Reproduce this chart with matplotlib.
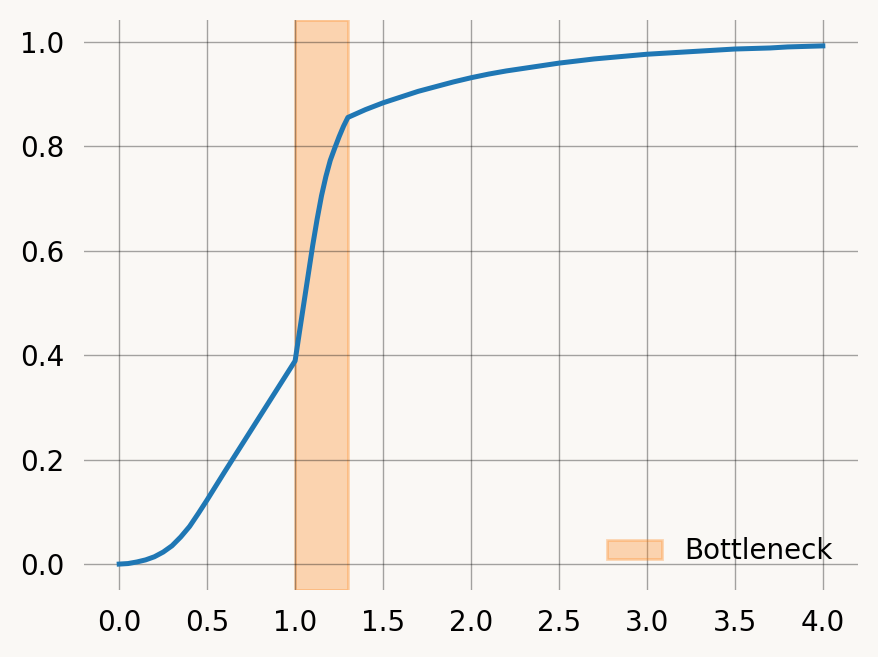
import matplotlib
matplotlib.use("Agg")
import matplotlib.pyplot as plt
import numpy as np

# curve
x_vals = [0.0, 0.05, 0.1, 0.15, 0.2, 0.25, 0.3, 0.35, 0.4, 0.45, 0.5, 0.55,
          0.6, 0.7, 0.8, 0.9, 1.0,
          1.025, 1.05, 1.075, 1.1, 1.125, 1.15, 1.175, 1.2, 1.225, 1.25, 1.275, 1.3,
          1.4, 1.5, 1.6, 1.7, 1.8, 1.9, 2.0, 2.1, 2.2, 2.3, 2.4, 2.5, 2.6, 2.7,
          2.8, 2.9, 3.0, 3.1, 3.2, 3.3, 3.4, 3.5, 3.6, 3.7, 3.8, 3.9, 4.0]
y_vals = [0.0, 0.001, 0.004, 0.008, 0.014, 0.023, 0.035, 0.052, 0.072, 0.097, 0.123, 0.150,
          0.177, 0.230, 0.283, 0.336, 0.389,
          0.445, 0.500, 0.555, 0.610, 0.660, 0.705, 0.742, 0.773, 0.796, 0.818, 0.838, 0.855,
          0.870, 0.883, 0.894, 0.905, 0.914, 0.923, 0.931, 0.938, 0.944, 0.949, 0.954, 0.959,
          0.963, 0.967, 0.970, 0.973, 0.976, 0.978, 0.980, 0.982, 0.984, 0.986, 0.987, 0.988,
          0.990, 0.991, 0.992]

bottleneck = (1.0, 1.3)
bottleneck_label = "Bottleneck"
x_ticks = [0.0, 0.5, 1.0, 1.5, 2.0, 2.5, 3.0, 3.5, 4.0]
y_ticks = [0.0, 0.2, 0.4, 0.6, 0.8, 1.0]

bg = "#faf8f5"
fig = plt.figure(figsize=(4.395, 3.285), dpi=200, facecolor=bg)
ax = fig.add_axes([0.0956, 0.102, 0.8805, 0.8676], facecolor=bg)

ax.axvspan(bottleneck[0], bottleneck[1], color="C1", alpha=0.3, label=bottleneck_label)
ax.plot(x_vals, y_vals, color="C0", lw=1.8, solid_joinstyle="round")

ax.set_xticks(x_ticks)
ax.set_yticks(y_ticks)
ax.set_xticklabels([f"{t:.1f}" for t in x_ticks])
ax.set_yticklabels([f"{t:.1f}" for t in y_ticks])
ax.tick_params(length=0, pad=7, labelsize=10)

ax.grid(True, color="k", alpha=0.35, lw=0.5)
for s in ax.spines.values():
    s.set_visible(False)

ax.legend(loc="lower right", frameon=False, fontsize=10)

fig.savefig("out.png", dpi=200, facecolor=bg)
